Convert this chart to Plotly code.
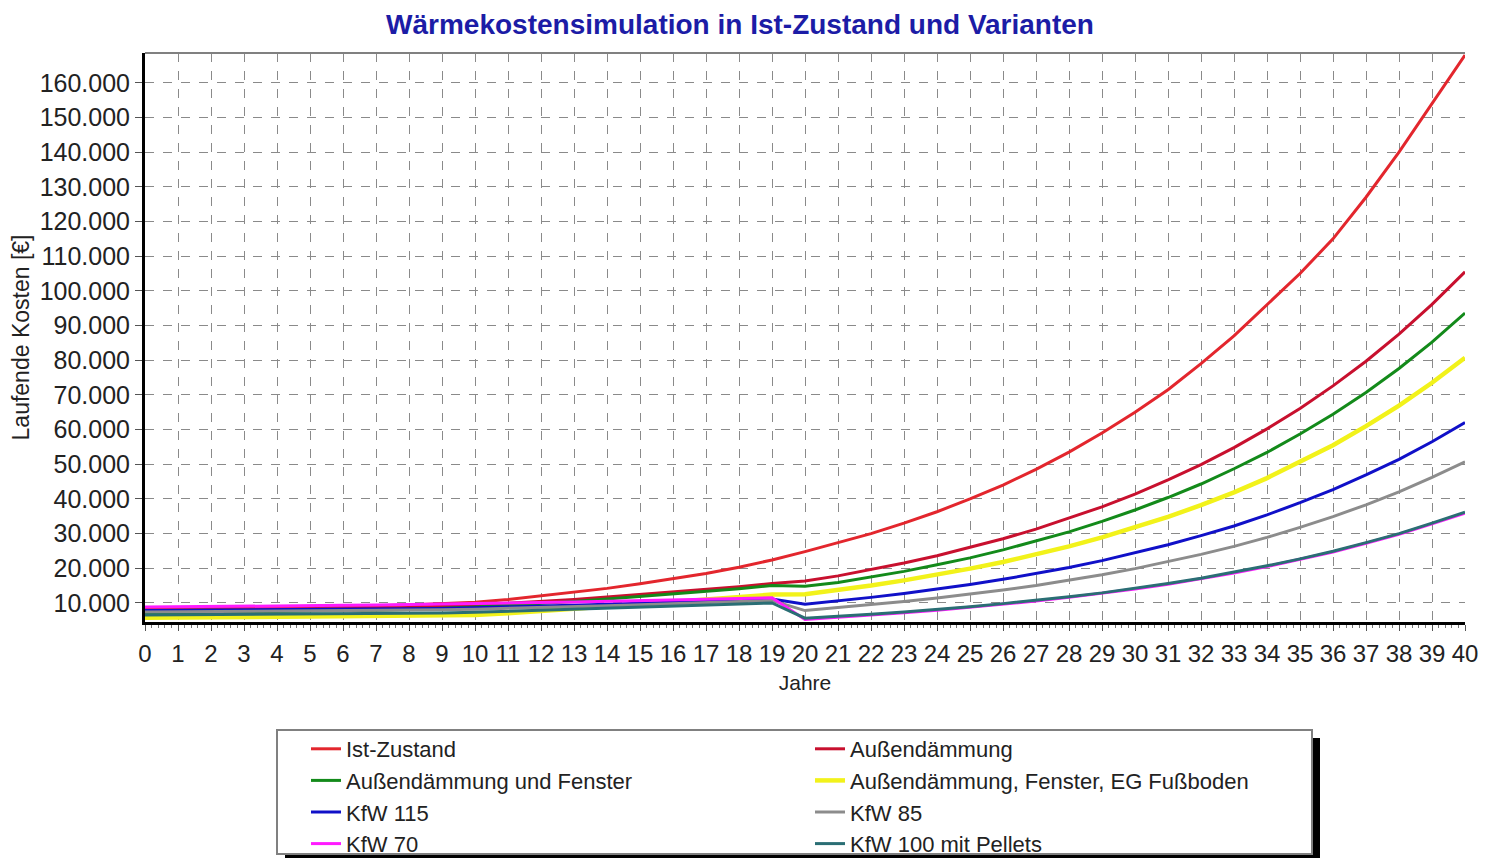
import plotly.graph_objects as go

years = list(range(0, 41))

ist_zustand = [8300, 8400, 8500, 8600, 8700, 8800, 9000, 9200, 9400, 9700,
               10200, 11000, 12000, 13000, 14200, 15500, 16900, 18500, 20300, 22400,
               24800, 27300, 30000, 33000, 36300, 40000, 44000, 48500, 53500, 59000,
               65000, 71500, 79000, 87000, 96000, 105000, 115000, 127000, 140000, 154000, 168000]
aussen = [7600, 7700, 7800, 7900, 8000, 8100, 8300, 8500, 8700, 9000,
          9400, 9900, 10400, 11000, 11700, 12400, 13100, 13900, 14700, 15600,
          16300, 17800, 19600, 21500, 23600, 26000, 28500, 31300, 34400, 37700,
          41400, 45500, 49900, 54800, 60200, 66100, 72600, 79700, 87500, 96100, 105500]
aussen_fenster = [7000, 7100, 7200, 7300, 7400, 7500, 7700, 7900, 8100, 8400,
                  8800, 9300, 9800, 10400, 11100, 11800, 12500, 13300, 14100, 15000,
                  14800, 15900, 17400, 19100, 21000, 23000, 25300, 27800, 30500, 33500,
                  36800, 40400, 44300, 48700, 53400, 58700, 64400, 70700, 77600, 85200, 93600]
aussen_fenster_eg = [5700, 5750, 5800, 5850, 5900, 5950, 6000, 6050, 6100, 6200,
                     6500, 7000, 7600, 8200, 8900, 9600, 10300, 11000, 11700, 12400,
                     12500, 13700, 15000, 16500, 18100, 19900, 21800, 23900, 26300, 28900,
                     31700, 34800, 38200, 41900, 46000, 50600, 55500, 61000, 66900, 73500, 80700]
kfw115 = [7800, 7850, 7900, 7950, 8000, 8050, 8100, 8200, 8300, 8400,
          8600, 8800, 9000, 9300, 9600, 9900, 10200, 10500, 10800, 11100,
          9600, 10500, 11600, 12700, 13900, 15300, 16800, 18400, 20200, 22200,
          24400, 26800, 29400, 32200, 35400, 38900, 42700, 46900, 51400, 56500, 62000]
kfw85 = [7400, 7450, 7500, 7550, 7600, 7650, 7700, 7800, 7900, 8000,
         8200, 8400, 8600, 8900, 9200, 9500, 9800, 10100, 10400, 10700,
         7800, 8600, 9400, 10400, 11400, 12500, 13700, 15000, 16500, 18100,
         19900, 21900, 24000, 26300, 28900, 31800, 34900, 38300, 42000, 46200, 50700]
kfw70 = [8800, 8850, 8900, 8950, 9000, 9050, 9300, 9400, 9500, 9600,
         9700, 9900, 10100, 10300, 10500, 10700, 10900, 11100, 11300, 11500,
         5200, 5800, 6450, 7150, 7900, 8750, 9650, 10550, 11600, 12700,
         14000, 15400, 16900, 18600, 20500, 22500, 24700, 27200, 29800, 32800, 35900]
kfw100_pellets = [6500, 6550, 6600, 6650, 6700, 6750, 6800, 6900, 7000, 7100,
                  7300, 7600, 7900, 8200, 8500, 8800, 9100, 9400, 9700, 10000,
                  5600, 6100, 6700, 7400, 8100, 8900, 9800, 10700, 11800, 12900,
                  14200, 15600, 17100, 18800, 20700, 22700, 24900, 27400, 30000, 33000, 36200]

series_names = ["Ist-Zustand", "Außendämmung", "Außendämmung und Fenster",
                "Außendämmung, Fenster, EG Fußboden", "KfW 115", "KfW 85",
                "KfW 70", "KfW 100 mit Pellets"]
series_values = [ist_zustand, aussen, aussen_fenster, aussen_fenster_eg,
                 kfw115, kfw85, kfw70, kfw100_pellets]
series_colors = ["#e3262d", "#c8102e", "#138a1a", "#f2f21a",
                 "#1010c8", "#8c8c8c", "#ff1aff", "#2a6e74"]
series_widths = [3, 3, 3, 4.5, 3, 3, 3, 3]

y_ticks = list(range(10000, 170000, 10000))

FONT = "Arial, Liberation Sans, sans-serif"

fig = go.Figure()
for name, vals, col, w in zip(series_names, series_values, series_colors, series_widths):
    fig.add_trace(go.Scatter(x=years, y=vals, name=name, mode="lines",
                             line=dict(color=col, width=w)))

# figure is placed by the page with an 8px body margin
W, H = 1473, 850
L, R, T, B = 137, 16, 45, 236
pw, ph = W - L - R, H - T - B

def px(xp):
    return (xp - L) / pw

def py(yp):
    return (H - B - yp) / ph

shapes = [
    # legend shadow
    dict(type="rect", xref="paper", yref="paper", x0=px(277), x1=px(1312),
         y0=py(850), y1=py(730), fillcolor="black", line=dict(width=0), layer="above"),
    # legend box
    dict(type="rect", xref="paper", yref="paper", x0=px(269), x1=px(1304),
         y0=py(846), y1=py(722), fillcolor="white", line=dict(color="#808080", width=2),
         layer="above"),
    # top frame line
    dict(type="line", xref="paper", yref="paper", x0=0, x1=1, y0=1, y1=1,
         line=dict(color="#808080", width=2)),
]

fig.update_layout(
    width=W, height=H,
    margin=dict(l=L, r=R, t=T, b=B, autoexpand=False),
    paper_bgcolor="white", plot_bgcolor="white",
    separators=",.",
    font=dict(family=FONT, color="#222222"),
    title=dict(text="<b>Wärmekostensimulation in Ist-Zustand und Varianten</b>",
               x=732 / W, xanchor="center", xref="container",
               y=1 - 16 / H, yanchor="middle", yref="container",
               font=dict(family=FONT, size=28, color="#1c1ca6")),
    xaxis=dict(range=[0, 40], tickmode="linear", tick0=0, dtick=1,
               automargin=False, ticklabeloverflow="allow",
               showgrid=True, gridcolor="#8a8a8a", griddash="dash", gridwidth=1,
               showline=True, linecolor="black", linewidth=3,
               ticks="outside", ticklen=6, tickcolor="#555555",
               minor=dict(dtick=0.2, ticks="outside", ticklen=3, tickcolor="#777777",
                          showgrid=False),
               ticklabelstandoff=2,
               tickfont=dict(family=FONT, size=24, color="#222222"),
               zeroline=False,
               title=dict(text="Jahre", standoff=10,
                          font=dict(family=FONT, size=21, color="#222222"))),
    yaxis=dict(range=[4500, 168600], tickmode="array", tickvals=y_ticks,
               tickformat=",d",
               automargin=False,
               showgrid=True, gridcolor="#8a8a8a", griddash="dash", gridwidth=1,
               showline=True, linecolor="black", linewidth=3,
               ticks="outside", ticklen=7, tickcolor="#555555",
               tickfont=dict(family=FONT, size=25, color="#222222"),
               zeroline=False,
               title=dict(text="Laufende Kosten [€]", standoff=6,
                          font=dict(family=FONT, size=23, color="#222222"))),
    legend=dict(orientation="h", x=px(298), xanchor="left", y=py(720), yanchor="top",
                bgcolor="rgba(0,0,0,0)", borderwidth=0,
                entrywidth=459, entrywidthmode="pixels",
                font=dict(family=FONT, size=22, color="#222222"),
                traceorder="normal", itemwidth=30),
    shapes=shapes,
    showlegend=True,
)

fig.write_html("out.html")
